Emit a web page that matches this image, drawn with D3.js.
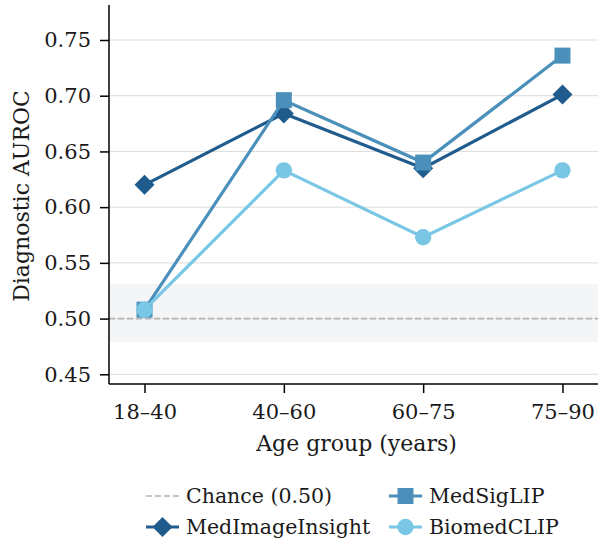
<!DOCTYPE html>
<html>
<head>
<meta charset="utf-8">
<script src="https://cdn.jsdelivr.net/npm/d3@7/dist/d3.min.js"></script>
<style>
  html, body { margin: 0; padding: 0; background: #fff; }
  svg { display: block; }
  text { font-family: "DejaVu Serif", serif; fill: #1a1a1a; }
</style>
</head>
<body>
<svg id="chart" width="602" height="539"></svg>
<script>
// Age groups on the x axis
const ageGroups = ["18–40", "40–60", "60–75", "75–90"];

// Diagnostic AUROC per model and age group
const medImageInsight = [0.620, 0.684, 0.635, 0.701];
const medSigLIP       = [0.508, 0.696, 0.640, 0.736];
const biomedCLIP      = [0.508, 0.633, 0.573, 0.633];

const yTicks = [0.45, 0.50, 0.55, 0.60, 0.65, 0.70, 0.75];
const chanceLevel = 0.50;
const chanceBand = [0.479, 0.531];

const seriesNames  = ["MedImageInsight", "MedSigLIP", "BiomedCLIP"];
const seriesColors = ["#1f5b8c", "#4a90bb", "#79c6e5"];
const seriesShapes = ["diamond", "square", "circle"];
const seriesValues = [medImageInsight, medSigLIP, biomedCLIP];

const svg = d3.select("#chart");
const margin = { left: 109, right: 4, top: 5, bottom: 155 };
const W = 602, H = 539;
const plotW = W - margin.left - margin.right;
const plotH = H - margin.top - margin.bottom;

const x = d3.scalePoint().domain(ageGroups).range([0, plotW]).padding(0.255);
const y = d3.scaleLinear().domain([0.4413, 0.7814]).range([plotH, 0]);

const g = svg.append("g").attr("transform", `translate(${margin.left},${margin.top})`);

// shaded band around chance
g.append("rect")
  .attr("x", 0).attr("width", plotW)
  .attr("y", y(chanceBand[1]))
  .attr("height", y(chanceBand[0]) - y(chanceBand[1]))
  .attr("fill", "#f4f5f7");

// horizontal gridlines
g.append("g").selectAll("line").data(yTicks).join("line")
  .attr("x1", 0).attr("x2", plotW)
  .attr("y1", d => y(d)).attr("y2", d => y(d))
  .attr("stroke", "#dcdcdc").attr("stroke-width", 1);

// chance reference line
g.append("line")
  .attr("x1", 0).attr("x2", plotW)
  .attr("y1", y(chanceLevel)).attr("y2", y(chanceLevel))
  .attr("stroke", "#b3b3b3").attr("stroke-width", 1.6)
  .attr("stroke-dasharray", "6,3");

// axes
const yAxis = d3.axisLeft(y).tickValues(yTicks).tickFormat(d3.format(".2f")).tickSize(9).tickPadding(9);
const xAxis = d3.axisBottom(x).tickSize(9).tickPadding(11);

const gy = g.append("g").call(yAxis);
const gx = g.append("g").attr("transform", `translate(0,${plotH})`).call(xAxis);
[gx, gy].forEach(a => {
  a.select(".domain").attr("stroke", "#000").attr("stroke-width", 1.5);
  a.selectAll(".tick line").attr("stroke", "#000").attr("stroke-width", 1.5);
  a.selectAll(".tick text").style("font-size", "21px").attr("fill", "#1a1a1a");
});
gx.select(".domain").attr("d", `M0,0H${plotW}`);
gy.select(".domain").attr("d", `M0,0V${plotH}`);

// axis titles
g.append("text")
  .attr("x", plotW / 2 + 3).attr("y", plotH + 67)
  .attr("text-anchor", "middle").style("font-size", "22px")
  .text("Age group (years)");
g.append("text")
  .attr("transform", `translate(${-80},${196 - margin.top}) rotate(-90)`)
  .attr("text-anchor", "middle").style("font-size", "22px")
  .text("Diagnostic AUROC");

const symbolFor = {
  diamond: d3.symbol().type(d3.symbolSquare).size(200),
  square: d3.symbol().type(d3.symbolSquare).size(256),
  circle: d3.symbol().type(d3.symbolCircle).size(210)
};
function drawMarker(sel, shape, color) {
  sel.append("path")
    .attr("d", symbolFor[shape]())
    .attr("transform", shape === "diamond" ? "rotate(45)" : null)
    .attr("fill", color);
}

const line = d3.line().x((d, i) => x(ageGroups[i])).y(d => y(d));

seriesValues.forEach((vals, si) => {
  const col = seriesColors[si];
  g.append("path").datum(vals)
    .attr("d", line).attr("fill", "none")
    .attr("stroke", col).attr("stroke-width", 3.2);
  vals.forEach((v, i) => {
    const m = g.append("g").attr("transform", `translate(${x(ageGroups[i])},${y(v)})`);
    drawMarker(m, seriesShapes[si], col);
  });
});

// legend
const legend = svg.append("g");
const legendItems = [
  { name: "Chance (0.50)", col: 0, row: 0, dash: true },
  { name: "MedImageInsight", col: 0, row: 1, si: 0 },
  { name: "MedSigLIP", col: 1, row: 0, si: 1 },
  { name: "BiomedCLIP", col: 1, row: 1, si: 2 }
];
const colX = [146, 389], rowY = [496, 527];
legendItems.forEach(it => {
  const lg = legend.append("g").attr("transform", `translate(${colX[it.col]},${rowY[it.row]})`);
  if (it.dash) {
    lg.append("line").attr("x1", 0).attr("x2", 33).attr("y1", 0).attr("y2", 0)
      .attr("stroke", "#b3b3b3").attr("stroke-width", 1.6).attr("stroke-dasharray", "6,3");
  } else {
    lg.append("line").attr("x1", 0).attr("x2", 33).attr("y1", 0).attr("y2", 0)
      .attr("stroke", seriesColors[it.si]).attr("stroke-width", 3.2);
    const m = lg.append("g").attr("transform", "translate(16.5,0)");
    drawMarker(m, seriesShapes[it.si], seriesColors[it.si]);
  }
  lg.append("text").attr("x", 40).attr("y", 0).attr("dy", "0.35em")
    .style("font-size", "20.5px").text(it.name);
});
</script>
</body>
</html>
